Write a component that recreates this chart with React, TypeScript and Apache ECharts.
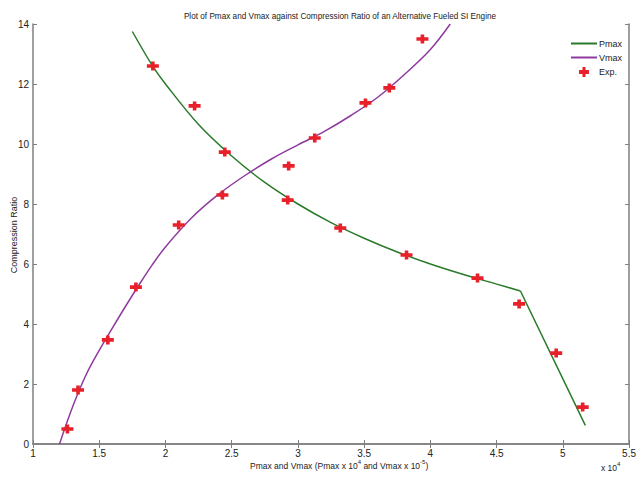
import React, { useEffect, useRef } from "react";
import * as echarts from "echarts";

// Pmax: curved branch, then straight drop after the knee
const pmaxX = [1.75, 1.9, 2.0, 2.25, 2.5, 2.75, 3.0, 3.25, 3.5, 3.75, 4.0, 4.25, 4.5, 4.68];
const pmaxY = [13.75, 12.62, 12.0, 10.65, 9.6, 8.72, 8.0, 7.38, 6.86, 6.4, 6.0, 5.65, 5.33, 5.1];
const pmaxTailX = [4.68, 5.17];
const pmaxTailY = [5.1, 0.62];

const vmaxX = [1.2, 1.3, 1.4, 1.5, 1.6, 1.7, 1.8, 1.9, 2.0, 2.2, 2.4, 2.6, 2.8, 3.0, 3.2, 3.4, 3.6, 3.8, 4.0, 4.15];
const vmaxY = [0.0, 1.25, 2.3, 3.12, 3.87, 4.6, 5.3, 5.97, 6.57, 7.55, 8.32, 8.95, 9.5, 9.97, 10.42, 10.95, 11.55, 12.3, 13.15, 14.0];

const expX = [1.26, 1.34, 1.565, 1.777, 1.905, 2.1, 2.22, 2.448, 2.43, 2.923, 2.93, 3.127, 3.32, 3.51, 3.69, 3.82, 3.94, 4.356, 4.67, 4.95, 5.15];
const expY = [0.5, 1.8, 3.47, 5.23, 12.6, 7.3, 11.27, 9.73, 8.3, 8.13, 9.27, 10.2, 7.2, 11.37, 11.87, 6.3, 13.5, 5.53, 4.67, 3.03, 1.23];

const xTicks = { min: 1, max: 5.5, interval: 0.5 };
const yTicks = { min: 0, max: 14, interval: 2 };

const FONT = "'Liberation Sans Narrow', 'Liberation Sans', Arial, sans-serif";
const PLUS = "path://M3.5,0 H6.5 V3 H10 V7 H6.5 V10 H3.5 V7 H0 V3 H3.5 Z";
const GREEN = "#2a7a2a";
const PURPLE = "#8e3a9e";

export default function App() {
  const ref = useRef<HTMLDivElement>(null);
  useEffect(() => {
    if (!ref.current) return;
    const chart = echarts.init(ref.current, undefined, { renderer: "svg" });
    const axisLine = { show: true, lineStyle: { color: "#7f7f7f", width: 1.5 } };
    const axisTick = { show: true, inside: true, length: 4, lineStyle: { color: "#7f7f7f" } };
    const sup = {
      a: { fontFamily: FONT, fontSize: 8.5, fill: "#222", lineHeight: 14, verticalAlign: "bottom" },
      s: { fontFamily: FONT, fontSize: 6, fill: "#222", lineHeight: 14, verticalAlign: "bottom", padding: [0, 0, 5, 0] },
    };
    chart.setOption({
      animation: false,
      backgroundColor: "#fff",
      title: {
        text: "Plot of Pmax and Vmax against Compression Ratio of an Alternative Fueled SI Engine",
        left: 335,
        textAlign: "center",
        top: 7,
        textStyle: { fontFamily: FONT, fontSize: 8.2, fontWeight: "normal", color: "#222" },
      },
      grid: { left: 33, right: 9, top: 24, bottom: 36 },
      legend: {
        orient: "vertical",
        right: 12,
        top: 34,
        itemWidth: 26,
        itemHeight: 10,
        itemGap: 5,
        textStyle: { fontFamily: FONT, fontSize: 9, color: "#222", padding: [0, 0, 0, -3] },
        data: [
          { name: "Pmax", itemStyle: { opacity: 0 } },
          { name: "Vmax", itemStyle: { opacity: 0 } },
          { name: "Exp." },
        ],
      },
      xAxis: [
        {
          type: "value",
          ...xTicks,
          axisLine,
          axisTick,
          splitLine: { show: false },
          axisLabel: { fontFamily: FONT, fontSize: 10, color: "#222", margin: 4 },
        },
        {
          type: "value",
          position: "top",
          ...xTicks,
          axisLine,
          axisTick,
          splitLine: { show: false },
          axisLabel: { show: false },
        },
      ],
      yAxis: [
        {
          type: "value",
          ...yTicks,
          axisLine,
          axisTick,
          splitLine: { show: false },
          axisLabel: { fontFamily: FONT, fontSize: 10, color: "#222", margin: 4 },
        },
        {
          type: "value",
          position: "right",
          ...yTicks,
          axisLine,
          axisTick,
          splitLine: { show: false },
          axisLabel: { show: false },
        },
      ],
      graphic: [
        {
          type: "text",
          left: 250,
          top: 459,
          style: {
            text: "{a|Pmax and Vmax (Pmax x 10}{s|4}{a| and Vmax x 10}{s|-5}{a|)}",
            rich: sup,
          },
        },
        {
          type: "text",
          left: 601,
          top: 461,
          style: { text: "{a|x 10}{s|4}", rich: sup },
        },
        {
          type: "text",
          x: 14,
          y: 235,
          rotation: Math.PI / 2,
          style: {
            text: "Compression Ratio",
            fontFamily: FONT,
            fontSize: 9,
            fill: "#222",
            align: "center",
            verticalAlign: "middle",
          },
        },
      ],
      series: [
        {
          name: "Pmax",
          type: "line",
          symbol: "none",
          smooth: 0.35,
          lineStyle: { color: GREEN, width: 1.5 },
          itemStyle: { color: GREEN },
          data: pmaxX.map((x, i) => [x, pmaxY[i]]),
          z: 2,
        },
        {
          name: "Pmax",
          type: "line",
          symbol: "none",
          lineStyle: { color: GREEN, width: 1.5 },
          itemStyle: { color: GREEN },
          data: pmaxTailX.map((x, i) => [x, pmaxTailY[i]]),
          z: 2,
        },
        {
          name: "Vmax",
          type: "line",
          symbol: "none",
          smooth: 0.35,
          lineStyle: { color: PURPLE, width: 1.5 },
          itemStyle: { color: PURPLE },
          data: vmaxX.map((x, i) => [x, vmaxY[i]]),
          z: 2,
        },
        {
          name: "Exp.",
          type: "scatter",
          symbol: PLUS,
          symbolSize: [12, 9],
          itemStyle: { color: "#e8202a", opacity: 1 },
          data: expX.map((x, i) => [x, expY[i]]),
          z: 3,
        },
      ],
    });
    return () => chart.dispose();
  }, []);
  return <div ref={ref} style={{ width: 639, height: 480, position: "absolute", left: 0, top: 0 }} />;
}
